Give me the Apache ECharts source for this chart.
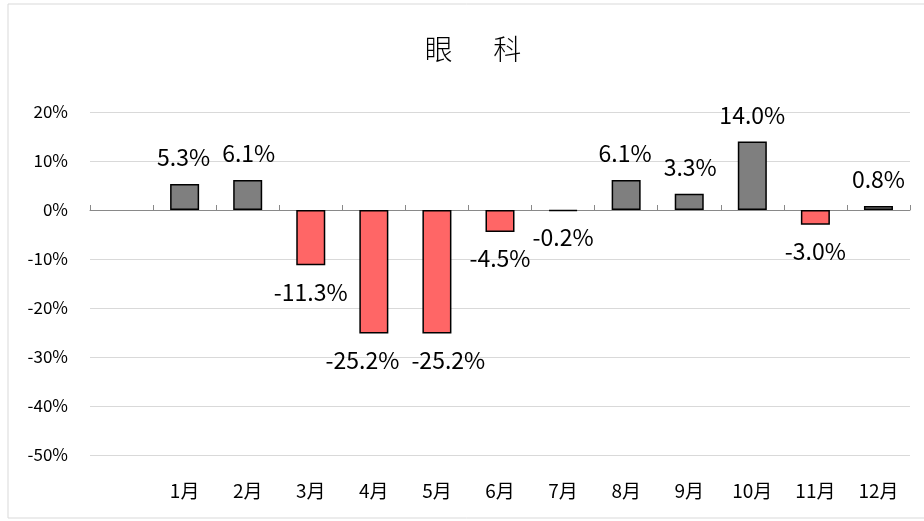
<!DOCTYPE html>
<html>
<head>
<meta charset="utf-8">
<script src="https://cdn.jsdelivr.net/npm/echarts@6/dist/echarts.min.js"></script>
<style>
  html, body { margin: 0; padding: 0; background: #fff; }
  #chart { width: 924px; height: 521px; }
</style>
</head>
<body>
<div id="chart"></div>
<script>
// leading blank slot as in the source sheet
const categories = ["", "1月", "2月", "3月", "4月", "5月", "6月", "7月", "8月", "9月", "10月", "11月", "12月"];
const values = [null, 5.3, 6.1, -11.3, -25.2, -25.2, -4.5, -0.2, 6.1, 3.3, 14.0, -3.0, 0.8];
const yTicks = [-50, 20, 10];

const font = "'Noto Sans CJK SC', 'Noto Sans', sans-serif";
const barRatio = 0.46;
const chart = echarts.init(document.getElementById("chart"));

const barData = values.map((v) => {
  if (v === null) return "-";
  return {
    value: v,
    itemStyle: { color: v >= 0 ? "#7f7f7f" : "#ff6666" },
    label: { position: v >= 0 ? "top" : "bottom" },
  };
});

// push apart labels of neighbouring bars that end at the same height
function nudge(params) {
  const i = params.dataIndex;
  const catW = params.rect.width / barRatio;
  const need = params.labelRect.width + 12 - catW;
  if (need <= 0) return {};
  const same = (j) => values[j] != null && Math.abs(values[j] - values[i]) < 3;
  if (same(i + 1)) return { dx: -need / 2 };
  if (same(i - 1)) return { dx: need / 2 };
  return {};
}

chart.setOption({
  animation: false,
  title: {
    text: "眼　  科",
    left: 468,
    top: 30,
    textAlign: "center",
    textStyle: { fontFamily: font, fontSize: 28, fontWeight: 300, color: "#000" },
  },
  graphic: [
    {
      type: "rect",
      shape: { x: 8, y: 4, width: 940, height: 514 },
      style: { fill: null, stroke: "#d9d9d9", lineWidth: 1 },
      silent: true,
    },
  ],
  grid: { left: 90, right: 14, top: 112, bottom: 66 },
  xAxis: [
    {
      type: "category",
      data: categories,
      axisLine: { onZero: true, lineStyle: { color: "#898989", width: 1 } },
      axisTick: { show: true, inside: true, length: 5, lineStyle: { color: "#898989" } },
      axisLabel: { show: false },
    },
    {
      type: "category",
      data: categories,
      position: "bottom",
      axisLine: { show: false, onZero: false },
      axisTick: { show: false },
      axisLabel: { interval: 0, margin: 26, fontFamily: font, fontSize: 19, color: "#000" },
    },
  ],
  yAxis: {
    type: "value",
    min: yTicks[0],
    max: yTicks[1],
    interval: yTicks[2],
    axisLine: { show: false },
    axisTick: { show: false },
    splitLine: { lineStyle: { color: "#d9d9d9", width: 1 } },
    axisLabel: {
      margin: 22,
      fontFamily: font,
      fontSize: 17,
      color: "#000",
      formatter: "{value}%",
    },
  },
  series: [
    {
      type: "bar",
      xAxisIndex: 0,
      data: barData,
      barWidth: barRatio * 100 + "%",
      itemStyle: { borderColor: "#000", borderWidth: 1.5 },
      label: {
        show: true,
        distance: 15,
        fontFamily: font,
        fontSize: 23,
        color: "#000",
        formatter: (p) => p.value.toFixed(1) + "%",
      },
      labelLayout: nudge,
    },
  ],
});
</script>
</body>
</html>
